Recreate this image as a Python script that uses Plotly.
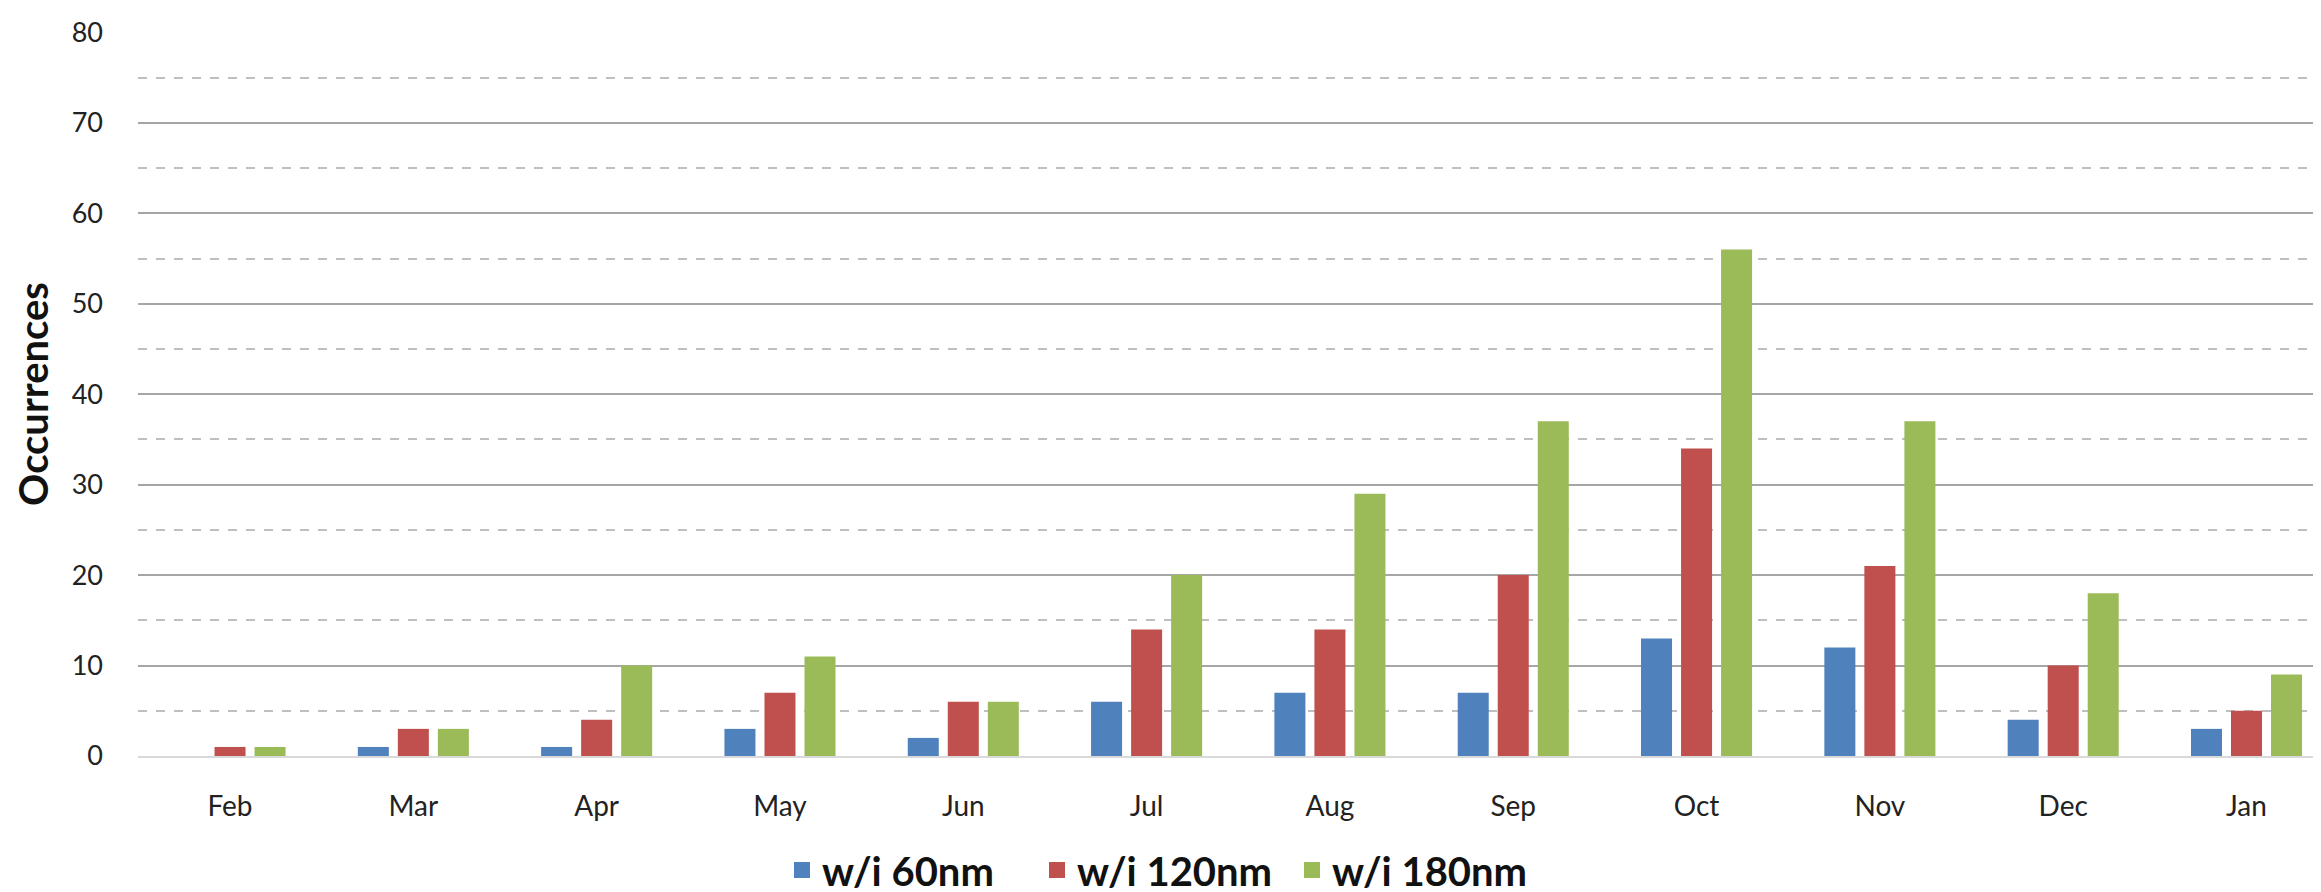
import plotly.graph_objects as go

months = ["Feb", "Mar", "Apr", "May", "Jun", "Jul", "Aug", "Sep", "Oct", "Nov", "Dec", "Jan"]
within_60 = [0, 1, 1, 3, 2, 6, 7, 7, 13, 12, 4, 3]
within_120 = [1, 3, 4, 7, 6, 14, 14, 20, 34, 21, 10, 5]
within_180 = [1, 3, 10, 11, 6, 20, 29, 37, 56, 37, 18, 9]
series_names = ["w/i 60nm", "w/i 120nm", "w/i 180nm"]
colors = ["#4F81BD", "#C0504D", "#9BBB59"]
y_ticks = [0, 10, 20, 30, 40, 50, 60, 70, 80]

fig = go.Figure()
for name, vals, col in zip(series_names, [within_60, within_120, within_180], colors):
    fig.add_trace(go.Bar(x=months, y=vals, name=name, showlegend=False,
                         marker=dict(color=col, line=dict(width=0))))
# legend entries (square swatches)
for name, col in zip(series_names, colors):
    fig.add_trace(go.Scatter(x=[None], y=[None], mode="markers", name=name, showlegend=True,
                             marker=dict(symbol="square", size=16, color=col)))

FONT = "Lato"
L, T, B = 130, 24, 144
plot_h = 892 - T - B
plot_w = 2321 - L
fig.update_layout(
    width=2321, height=892,
    margin=dict(l=L, r=0, t=T, b=B, autoexpand=False),
    paper_bgcolor="white", plot_bgcolor="white",
    barmode="group", bargap=0.345, bargroupgap=0.225,
    font=dict(family=FONT, size=28, color="#222222"),
    showlegend=True,
    legend=dict(orientation="h", x=(774 - L) / plot_w, xanchor="left",
                y=-(862 - (892 - B)) / plot_h, yanchor="middle",
                font=dict(family=FONT, size=40, color="#111111", weight="bold"),
                entrywidth=210, entrywidthmode="pixels",
                itemwidth=30, tracegroupgap=0, traceorder="normal"),
)
fig.update_xaxes(showline=True, linecolor="#D9D9D9", linewidth=2, ticks="", showgrid=False,
                 range=[-0.502, 11.45], tickfont=dict(size=28), ticklabelstandoff=24)
fig.update_yaxes(range=[0, 80.05], tickvals=y_ticks, showgrid=True, gridcolor="#A6A6A6", gridwidth=1.5,
                 zeroline=False, showline=False, ticks="", tickfont=dict(size=27), ticklabelstandoff=34,
                 minor=dict(dtick=5, showgrid=True, gridcolor="#BFBFBF", griddash="dash", gridwidth=1.5),
                 title=dict(text="<b>Occurrences</b>", font=dict(size=40, color="#111111"), standoff=10))

fig.write_html("out.html")
